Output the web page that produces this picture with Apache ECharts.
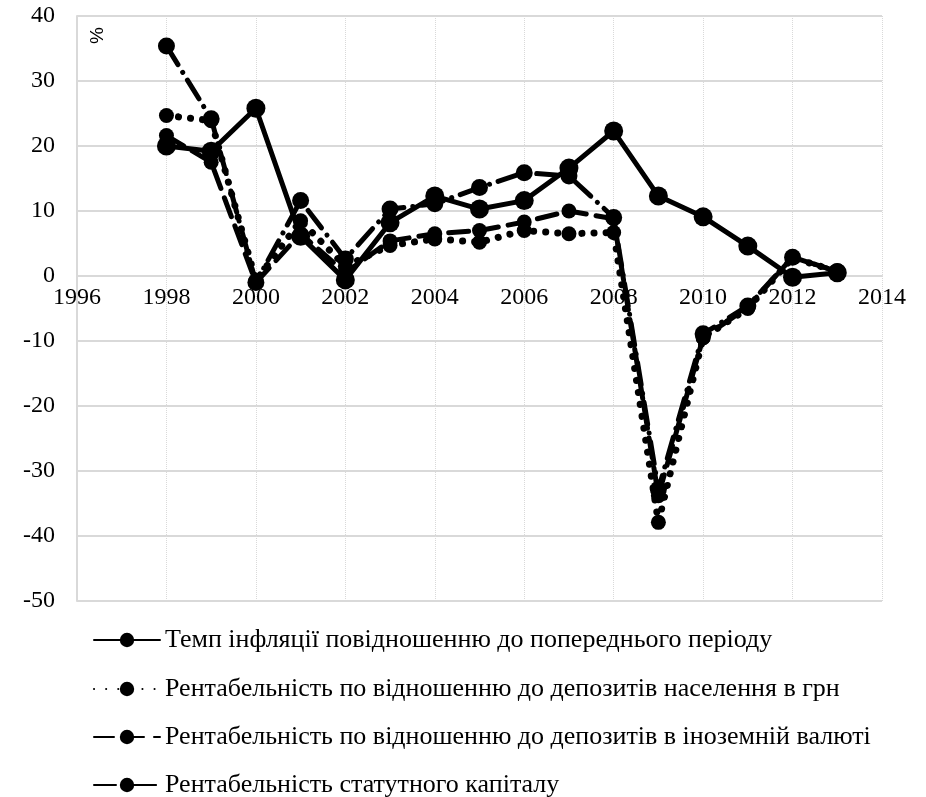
<!DOCTYPE html>
<html>
<head>
<meta charset="utf-8">
<script src="https://cdn.jsdelivr.net/npm/echarts@6/dist/echarts.min.js"></script>
<style>
  html, body { margin: 0; padding: 0; background: #fff; }
  #chart { width: 926px; height: 797px; }
</style>
</head>
<body>
<div id="chart"></div>
<script>
var years = [1998, 1999, 2000, 2001, 2002, 2003, 2004, 2005, 2006, 2007, 2008, 2009, 2010, 2011, 2012, 2013];
var inflation = [20.0, 19.2, 25.8, 6.1, -0.6, 8.2, 12.3, 10.3, 11.6, 16.6, 22.3, 12.3, 9.1, 4.6, -0.2, 0.5];
var depositsUah = [24.7, 23.9, -0.7, 8.5, 1.5, 4.7, 5.7, 5.2, 7.0, 6.5, 6.7, -37.9, -9.5, -5.0, 2.8, 0.7];
var depositsFx = [21.6, 17.5, -1.0, 6.5, 0.5, 5.4, 6.5, 7.0, 8.3, 10.0, 8.8, -33.8, -9.5, -4.8, 2.9, 0.7];
var statCapital = [35.4, 24.2, -1.0, 11.6, 2.6, 10.3, 11.1, 13.6, 15.9, 15.4, 9.0, -32.8, -8.9, -4.6, 2.9, 0.7];
var names = [
  "Темп інфляції повідношенню до попереднього періоду",
  "Рентабельність по відношенню до депозитів населення в грн",
  "Рентабельність по відношенню до депозитів в іноземній валюті",
  "Рентабельність статутного капіталу"
];
var yTicks = { min: -50, max: 40, step: 10 };
var xTicks = { min: 1996, max: 2014, step: 2 };

var font = "'Liberation Serif', 'Times New Roman', serif";

function pairs(vals) {
  return years.map(function(y, i) { return [y, vals[i]]; });
}

function makeSeries(name, vals, dash, width, size) {
  return {
    name: name,
    type: "line",
    data: pairs(vals),
    symbol: "circle",
    symbolSize: size,
    lineStyle: { color: "#000", width: width, type: dash, cap: "round" },
    itemStyle: { color: "#000" },
    emphasis: { disabled: true }
  };
}

// окрема легенда на кожен рядок, щоб не переносилась у другу колонку
var legendRows = [640, 689, 737, 785];
var legends = names.map(function(n, i) {
  return {
    orient: "vertical",
    left: 88,
    top: legendRows[i] - 13,
    padding: [0, 5],
    itemWidth: 66,
    itemHeight: 18,
    textStyle: { fontFamily: font, fontSize: 26, color: "#000" },
    data: [n]
  };
});

var myChart = echarts.init(document.getElementById("chart"));
// 0 на осі Y: відступ осі X від низу сітки
var plotH = 797 - 16 - 196;
var zeroOffset = -Math.round(plotH * (0 - yTicks.min) / (yTicks.max - yTicks.min));

var option = {
  animation: false,
  textStyle: { fontFamily: font },
  grid: { left: 77, top: 16, right: 44, bottom: 196 },
  legend: legends,
  xAxis: {
    type: "value",
    min: xTicks.min,
    max: xTicks.max,
    interval: xTicks.step,
    offset: zeroOffset,
    axisLine: { show: true, onZero: false, lineStyle: { color: "#d9d9d9", width: 2 } },
    axisTick: { show: false },
    axisLabel: {
      color: "#000",
      fontSize: 24,
      fontFamily: font,
      margin: 10,
      formatter: function(v) { return String(v); }
    },
    splitLine: { show: true, lineStyle: { color: "#d9d9d9", type: "dotted", width: 1 } }
  },
  yAxis: {
    type: "value",
    min: yTicks.min,
    max: yTicks.max,
    interval: yTicks.step,
    axisLine: { show: true, lineStyle: { color: "#d9d9d9", width: 2 } },
    axisTick: { show: false },
    axisLabel: { color: "#000", fontSize: 24, fontFamily: font, margin: 22 },
    splitLine: { show: true, lineStyle: { color: "#d9d9d9", width: 2 } }
  },
  graphic: [{
    type: "text",
    left: 88,
    top: 27,
    rotation: Math.PI / 2,
    style: { text: "%", fontSize: 19, fontFamily: "'Liberation Sans', sans-serif", fill: "#000" }
  }],
  series: [
    makeSeries(names[0], inflation, "solid", 5, 19),
    makeSeries(names[1], depositsUah, [0.1, 12], 7, 15),
    makeSeries(names[2], depositsFx, [20, 10], 5, 15),
    makeSeries(names[3], statCapital, [22, 9, 0.1, 9], 5, 17)
  ]
};
myChart.setOption(option);
window.addEventListener("resize", function() {
  myChart.resize();
});
</script>
</body>
</html>
